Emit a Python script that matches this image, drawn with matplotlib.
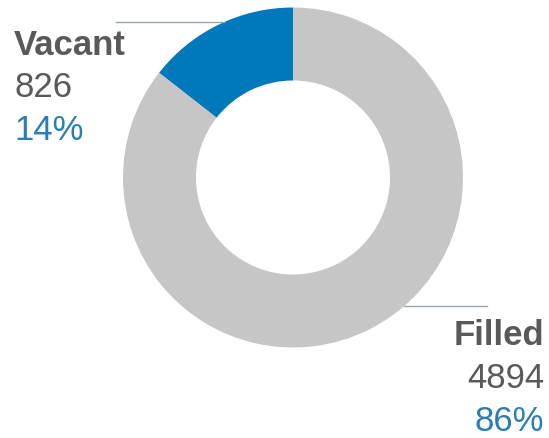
import matplotlib as mpl
mpl.use('Agg')
import matplotlib.pyplot as plt

labels = ['Vacant', 'Filled']
counts = [826, 4894]
pcts = ['14%', '86%']
colors = ['#0079bb', '#c6c6c6']

W, H = 549, 438
fig = plt.figure(figsize=(W / 100, H / 100), dpi=100)
ax = fig.add_axes([0, 0, 1, 1])

cx, cy, r = 293, H - 177.5, 170
ax.pie(counts, colors=colors, startangle=90, counterclock=True,
       center=(cx, cy), radius=r, frame=True,
       wedgeprops=dict(width=73, linewidth=0))
ax.set_xlim(0, W)
ax.set_ylim(0, H)
ax.set_aspect('equal')
ax.axis('off')

# leader lines
ax.plot([116, 224], [H - 22, H - 22], color='#9aa6b2', lw=1.0)
ax.plot([404, 487], [H - 306, H - 306], color='#9aa6b2', lw=1.0)

font = 'Liberation Sans'
grey = '#595959'
blue = '#2a7db5'
fs = 25

# Vacant label
ax.text(14, H - 55, labels[0], fontsize=fs, fontweight='bold', color=grey, family=font, va='baseline', ha='left')
ax.text(14, H - 97, str(counts[0]), fontsize=fs, color=grey, family=font, va='baseline', ha='left')
ax.text(14, H - 140, pcts[0], fontsize=fs, color=blue, family=font, va='baseline', ha='left')

# Filled label
ax.text(544, H - 345, labels[1], fontsize=fs, fontweight='bold', color=grey, family=font, va='baseline', ha='right')
ax.text(544, H - 388, str(counts[1]), fontsize=fs, color=grey, family=font, va='baseline', ha='right')
ax.text(544, H - 431, pcts[1], fontsize=fs, color=blue, family=font, va='baseline', ha='right')

fig.savefig('out.png', dpi=100)
plt.close(fig)
